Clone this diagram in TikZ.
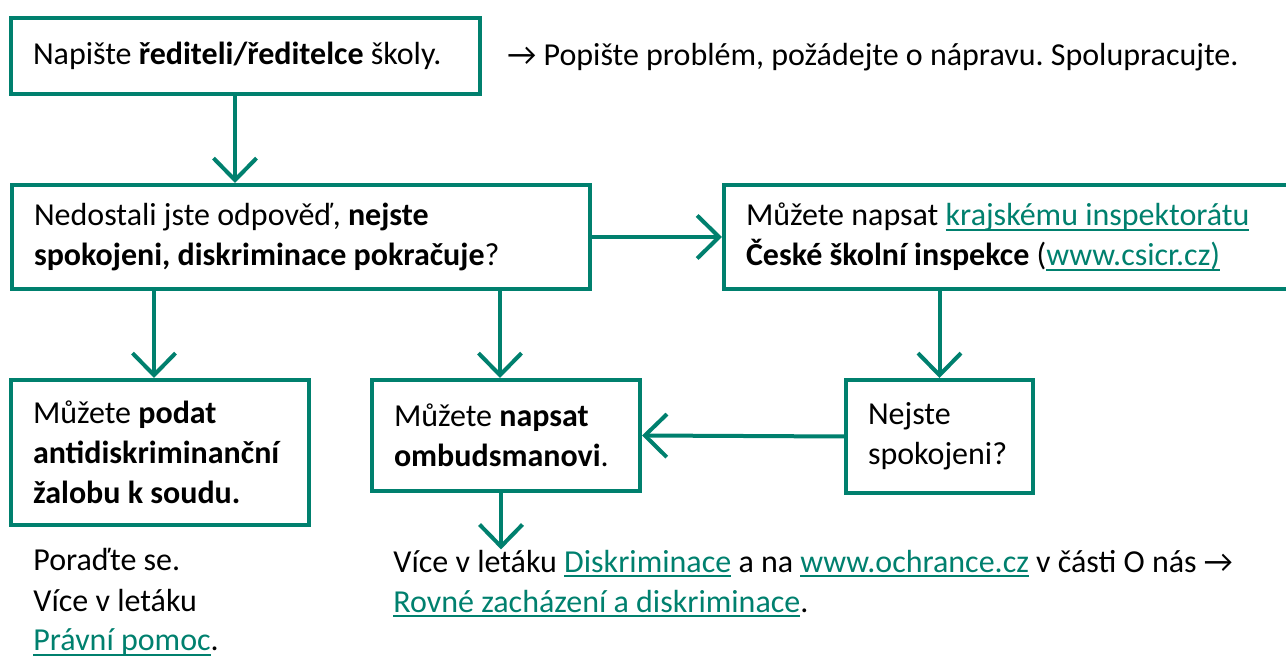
\documentclass[tikz,border=0pt]{standalone}
\usepackage{fontspec}
\setmainfont{Carlito}
\usetikzlibrary{arrows.meta}
\definecolor{linkc}{RGB}{0,128,110}
\newcommand{\lnk}[1]{\textcolor{linkc}{\setbox0\hbox{#1}\rlap{\rule[-2.6pt]{\wd0}{1pt}}\box0}}
\newcommand{\rarr}{\char"2192}
\frenchspacing
\hyphenpenalty=10000

\begin{document}
\begin{tikzpicture}[x=0.5pt,y=-0.5pt,
  font=\fontsize{16pt}{20pt}\selectfont,
  box/.style={draw=linkc, line width=2pt, anchor=north west, align=flush left, inner xsep=11pt, inner ysep=0pt,
    execute at begin node={\spaceskip=0pt\xspaceskip=0pt}},
  note/.style={anchor=base west, inner sep=0pt, align=left},
  arr/.style={draw=linkc, line width=2pt, -{Straight Barb[length=11pt,width=21.5pt,line width=2pt]}}]
	\useasboundingbox (0,0) rectangle (1286,657);
	\clip (0,0) rectangle (1286,657);
	\node[box, text width=212.5pt, minimum height=38pt] (reditel) at (9,16) {\mbox{Napište \textbf{řediteli/ředitelce} školy.}};
	\node[note] (popis) at (507,66) {\rarr{} Popište problém, požádejte o nápravu. Spolupracujte.};
	\node[box, text width=267pt, minimum height=52pt] (nespokojen) at (10,183) {\mbox{Nedostali jste odpověď, \textbf{nejste}}\\\mbox{\textbf{spokojeni, diskriminace pokračuje}?}};
	\node[box, text width=268pt, minimum height=52pt] (inspekce) at (722,183) {\mbox{Můžete napsat \lnk{krajskému inspektorátu}}\\\mbox{\textbf{České školní inspekce} (\lnk{www.csicr.cz)}}};
	\node[box, text width=71.5pt, minimum height=56.5pt] (znovu) at (844,378) {\mbox{Nejste}\\\mbox{spokojeni?}};
	\node[box, text width=112pt, minimum height=55.5pt] (ombudsman) at (370,378) {\mbox{Můžete \textbf{napsat}}\\\mbox{\textbf{ombudsmanovi}.}};
	\node[box, text width=127pt, minimum height=72.5pt] (zaloba) at (9,378) {\mbox{Můžete \textbf{podat}}\\\mbox{\textbf{antidiskriminanční}}\\\mbox{\textbf{žalobu k soudu.}}};
	\node[note] (letak) at (393,612) {Více v letáku \lnk{Diskriminace} a na \lnk{www.ochrance.cz} v části O nás \rarr\\\lnk{Rovné zacházení a diskriminace}.};
	\node[note] (porada) at (33,651) {Poraďte se.\\Více v letáku\\\lnk{Právní pomoc}.};
	% connectors
	\draw[arr] (reditel.south -| 235,0) -- (nespokojen.north -| 235,0);
	\draw[arr] (nespokojen.east) -- (inspekce.west);
	\draw[arr] (inspekce.south -| znovu.north) -- (znovu.north);
	\draw[arr] (znovu.west) -- (ombudsman.east);
	\draw[arr] (nespokojen.south -| 500,0) -- (ombudsman.north -| 500,0);
	\draw[arr] (nespokojen.south -| 154,0) -- (zaloba.north -| 154,0);
	\draw[arr] (ombudsman.south -| 501,0) -- (letak.north -| 501,0);
\end{tikzpicture}
\end{document}
